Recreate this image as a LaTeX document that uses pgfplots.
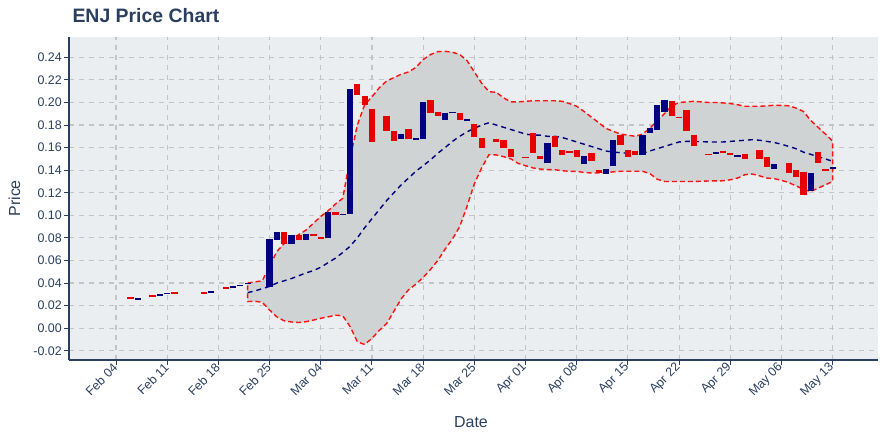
\documentclass[border=0pt]{standalone}
\usepackage{fontspec}
\setmainfont{Liberation Sans}
\usepackage{pgfplots}
\usepackage{pgfplotstable}
\pgfplotsset{compat=1.18}
\definecolor{txt}{HTML}{2A3F5F}
\definecolor{bg}{HTML}{EBEEF0}
\definecolor{gridc}{HTML}{C2C4C6}
\definecolor{bandfill}{HTML}{D0D3D4}
\definecolor{inc}{HTML}{000080}
\definecolor{dec}{HTML}{E60000}
\definecolor{bandline}{HTML}{FF1010}

% day index: 0 = Feb 04; each candle = open row, close row, nan row
\pgfplotstableread{
d v
3 0.0254
3 0.0268
3 nan
6 0.0289
6 0.0303
6 nan
7 0.0299
7 0.0313
7 nan
13 0.0316
13 0.0331
13 nan
16 0.0360
16 0.0375
16 nan
17 0.0370
17 0.0384
17 nan
18 0.0388
18 0.0402
18 nan
21 0.0369
21 0.0789
21 nan
22 0.0783
22 0.0854
22 nan
24 0.0750
24 0.0825
24 nan
26 0.0783
26 0.0836
26 nan
29 0.0795
29 0.1030
29 nan
31 0.1002
31 0.1016
31 nan
32 0.1016
32 0.2122
32 nan
39 0.1679
39 0.1723
39 nan
41 0.1664
41 0.1688
41 nan
42 0.1679
42 0.2007
42 nan
45 0.1848
45 0.1903
45 nan
46 0.1903
46 0.1917
46 nan
48 0.1836
48 0.1850
48 nan
59 0.1460
59 0.1643
59 nan
64 0.1451
64 0.1528
64 nan
67 0.1366
67 0.1413
67 nan
68 0.1433
68 0.1670
68 nan
72 0.1537
72 0.1715
72 nan
73 0.1732
73 0.1777
73 nan
74 0.1759
74 0.1981
74 nan
75 0.1913
75 0.2025
75 nan
82 0.1546
82 0.1560
82 nan
85 0.1513
85 0.1537
85 nan
90 0.1413
90 0.1457
90 nan
95 0.1212
95 0.1377
95 nan
98 0.1413
98 0.1428
98 nan
}\incdata

\pgfplotstableread{
d v
2 0.0278
2 0.0255
2 nan
5 0.0292
5 0.0278
5 nan
8 0.0318
8 0.0304
8 nan
12 0.0317
12 0.0303
12 nan
15 0.0363
15 0.0349
15 nan
23 0.0854
23 0.0750
23 nan
25 0.0825
25 0.0783
25 nan
27 0.0836
27 0.0813
27 nan
28 0.0808
28 0.0793
28 nan
30 0.1032
30 0.1002
30 nan
33 0.2167
33 0.2063
33 nan
34 0.2054
34 0.1974
34 nan
35 0.1945
35 0.1646
35 nan
37 0.1883
37 0.1744
37 nan
38 0.1744
38 0.1655
38 nan
40 0.1768
40 0.1673
40 nan
43 0.2025
43 0.1903
43 nan
44 0.1918
44 0.1883
44 nan
47 0.1910
47 0.1848
47 nan
49 0.1812
49 0.1690
49 nan
50 0.1688
50 0.1593
50 nan
52 0.1679
52 0.1646
52 nan
53 0.1670
53 0.1593
53 nan
54 0.1590
54 0.1513
54 nan
56 0.1519
56 0.1504
56 nan
57 0.1726
57 0.1549
57 nan
58 0.1528
58 0.1495
58 nan
60 0.1706
60 0.1602
60 nan
61 0.1581
61 0.1531
61 nan
62 0.1572
62 0.1555
62 nan
63 0.1581
63 0.1513
63 nan
65 0.1549
65 0.1484
65 nan
66 0.1404
66 0.1371
66 nan
69 0.1708
69 0.1626
69 nan
70 0.1581
70 0.1513
70 nan
71 0.1572
71 0.1534
71 nan
76 0.2016
76 0.1877
76 nan
77 0.1874
77 0.1859
77 nan
78 0.1936
78 0.1744
78 nan
79 0.1715
79 0.1611
79 nan
81 0.1546
81 0.1531
81 nan
83 0.1572
83 0.1549
83 nan
84 0.1549
84 0.1531
84 nan
86 0.1546
86 0.1495
86 nan
88 0.1581
88 0.1495
88 nan
89 0.1519
89 0.1424
89 nan
92 0.1466
92 0.1371
92 nan
93 0.1404
93 0.1339
93 nan
94 0.1386
94 0.1176
94 nan
96 0.1564
96 0.1460
96 nan
97 0.1411
97 0.1397
97 nan
}\decdata

\begin{document}
\begin{tikzpicture}
\path[use as bounding box] (0,0) rectangle (880bp,440bp);
\begin{axis}[
  at={(69bp,80bp)}, anchor=south west,
  scale only axis, width=809bp, height=323bp,
  xmin=-6.43, xmax=104.2, ymin=-0.0282, ymax=0.258,
  axis x line*=bottom, axis y line*=left,
  axis line style={txt, line width=1.3bp},
  axis background/.style={fill=bg},
  xtick={0,7,14,21,28,35,42,49,56,63,70,77,84,91,98},
  xticklabels={Feb 04,Feb 11,Feb 18,Feb 25,Mar 04,Mar 11,Mar 18,Mar 25,Apr 01,Apr 08,Apr 15,Apr 22,Apr 29,May 06,May 13},
  ytick={-0.02,0,0.02,0.04,0.06,0.08,0.10,0.12,0.14,0.16,0.18,0.20,0.22,0.24},
  yticklabels={-0.02,0.00,0.02,0.04,0.06,0.08,0.10,0.12,0.14,0.16,0.18,0.20,0.22,0.24},
  grid=major,
  major grid style={gridc, dash pattern=on 5bp off 5bp, line width=1.1bp},
  tick align=outside, major tick length=5bp,
  tick style={txt, line width=1bp},
  tick label style={text=txt, font=\fontsize{12.5}{14}\selectfont},
  xticklabel style={rotate=45, anchor=east, inner sep=1bp},
  yticklabel style={inner sep=2bp},
  unbounded coords=jump,
]
% Bollinger band area
\addplot[fill=bandfill, draw=bandline, line width=1.4bp, dash pattern=on 5bp off 3bp] coordinates {
(18,0.040) (19,0.041) (20,0.042) (21,0.055) (22,0.068) (23,0.075) (24,0.079) (25,0.083) (26,0.087) (27,0.093) (28,0.099) (29,0.104) (30,0.110) (31,0.115) (32,0.150) (33,0.180) (34,0.198) (35,0.205) (36,0.213) (37,0.219) (38,0.222) (39,0.225) (40,0.227) (41,0.231) (42,0.238) (43,0.2424) (44,0.245) (45,0.2453) (46,0.2445) (47,0.2425) (48,0.237) (49,0.227) (50,0.217) (51,0.2095) (52,0.209) (53,0.204) (54,0.2005) (55,0.2005) (56,0.201) (57,0.2015) (58,0.2015) (59,0.2015) (60,0.2015) (61,0.201) (62,0.199) (63,0.1966) (64,0.192) (65,0.187) (66,0.182) (67,0.177) (68,0.1744) (69,0.172) (70,0.171) (71,0.170) (72,0.172) (73,0.177) (74,0.184) (75,0.190) (76,0.197) (77,0.200) (78,0.2005) (79,0.201) (80,0.2005) (81,0.200) (82,0.200) (83,0.1996) (84,0.199) (85,0.198) (86,0.1966) (87,0.1966) (88,0.1966) (89,0.197) (90,0.1975) (91,0.1974) (92,0.197) (93,0.195) (94,0.192) (95,0.184) (96,0.178) (97,0.172) (98,0.1655)
(98,0.130) (97,0.127) (96,0.124) (95,0.1212) (94,0.123) (93,0.126) (92,0.129) (91,0.131) (90,0.1325) (89,0.133) (88,0.135) (87,0.1366) (86,0.136) (85,0.133) (84,0.1315) (83,0.1306) (82,0.1305) (81,0.1304) (80,0.1302) (79,0.130) (78,0.130) (77,0.130) (76,0.130) (75,0.130) (74,0.132) (73,0.137) (72,0.139) (71,0.139) (70,0.139) (69,0.139) (68,0.1385) (67,0.1378) (66,0.1375) (65,0.1375) (64,0.138) (63,0.1389) (62,0.139) (61,0.1395) (60,0.1404) (59,0.1405) (58,0.141) (57,0.142) (56,0.144) (55,0.146) (54,0.150) (53,0.152) (52,0.1535) (51,0.1537) (50,0.142) (49,0.128) (48,0.108) (47,0.090) (46,0.079) (45,0.070) (44,0.060) (43,0.052) (42,0.045) (41,0.039) (40,0.034) (39,0.026) (38,0.015) (37,0.004) (36,-0.002) (35,-0.009) (34,-0.0145) (33,-0.012) (32,0.0015) (31,0.011) (30,0.0115) (29,0.010) (28,0.0088) (27,0.0072) (26,0.0058) (25,0.005) (24,0.0055) (23,0.0065) (22,0.010) (21,0.016) (20,0.023) (19,0.0238) (18,0.0236)
} -- cycle;
% middle band
\addplot[inc, line width=1.4bp, dash pattern=on 5bp off 4bp] coordinates {
(18,0.0315) (19,0.033) (20,0.035) (21,0.037) (22,0.040) (23,0.042) (24,0.044) (25,0.0465) (26,0.049) (27,0.051) (28,0.054) (29,0.058) (30,0.062) (31,0.067) (32,0.0725) (33,0.080) (34,0.089) (35,0.097) (36,0.105) (37,0.113) (38,0.120) (39,0.127) (40,0.133) (41,0.139) (42,0.144) (43,0.149) (44,0.155) (45,0.160) (46,0.1655) (47,0.170) (48,0.174) (49,0.177) (50,0.180) (51,0.182) (52,0.180) (53,0.178) (54,0.176) (55,0.174) (56,0.172) (57,0.171) (58,0.171) (59,0.170) (60,0.170) (61,0.169) (62,0.167) (63,0.165) (64,0.163) (65,0.161) (66,0.159) (67,0.157) (68,0.156) (69,0.1555) (70,0.155) (71,0.155) (72,0.155) (73,0.157) (74,0.159) (75,0.161) (76,0.163) (77,0.165) (78,0.1655) (79,0.1655) (80,0.1653) (81,0.165) (82,0.165) (83,0.165) (84,0.1655) (85,0.166) (86,0.1665) (87,0.167) (88,0.1665) (89,0.1655) (90,0.1645) (91,0.163) (92,0.161) (93,0.159) (94,0.156) (95,0.154) (96,0.152) (97,0.150) (98,0.1478)
};
% candles (open-close bodies)
\addplot[inc, line width=6.3bp, mark=none, line cap=butt] table[x=d, y=v] {\incdata};
\addplot[dec, line width=6.3bp, mark=none, line cap=butt] table[x=d, y=v] {\decdata};
\end{axis}
\node[anchor=base west, text=txt, font=\bfseries\fontsize{19.5}{23}\selectfont] at (69bp,417.5bp) {ENJ Price Chart};
\node[rotate=90, text=txt, font=\fontsize{16}{19}\selectfont] at (14.5bp,241.7bp) {Price};
\node[text=txt, font=\fontsize{16}{19}\selectfont] at (471bp,18bp) {Date};
\end{tikzpicture}
\end{document}
